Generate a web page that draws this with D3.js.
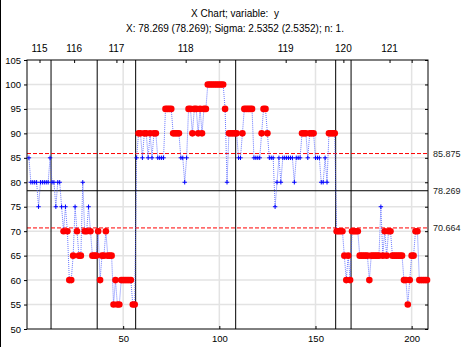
<!DOCTYPE html>
<html>
<head>
<meta charset="utf-8">
<script src="https://cdn.jsdelivr.net/npm/d3@7"></script>
<style>
  body { margin: 0; background: #fff; }
  svg text { font-family: "Liberation Sans", Arial, sans-serif; white-space: pre; }
</style>
</head>
<body>
<div id="viz"></div>
<script>
const width = 461;
const height = 347;
const plot = {left: 27, right: 428, top: 60, bottom: 329};

// sample values, one per observation (1..208)
const values = [
  85,80,80,80,80,75,80,80,80,80,80,85,
  80,80,75,80,80,75,70,75,70,60,60,65,
  75,70,65,65,80,70,70,75,70,65,65,65,
  70,60,65,65,70,65,65,65,55,60,55,55,
  60,60,60,60,60,60,55,55,
  85,90,90,85,90,90,85,90,85,90,90,85,
  85,85,85,95,95,95,95,90,90,90,90,85,
  85,80,85,95,95,90,95,95,90,95,90,95,
  95,100,100,100,100,100,100,100,100,100,95,80,
  90,90,90,90,90,85,85,90,95,95,95,95,
  95,85,85,85,85,90,95,95,90,85,85,85,
  75,80,85,80,85,85,85,85,85,85,80,85,
  85,85,90,90,90,85,90,90,90,85,85,85,
  80,80,85,80,90,90,90,90,70,70,70,70,
  65,60,65,60,70,70,70,70,65,65,65,65,
  65,60,65,65,65,65,65,75,65,70,65,70,
  70,65,65,65,65,65,65,60,60,55,60,65,
  65,70,70,60,60,60,60,60
];

// groups (top labels) and where each group ends
const groupLabels = ['115', '116', '117', '118', '119', '120', '121'];
const groupBreaks = [12.5, 36.5, 56.5, 108.5, 160.5, 168.5];

// control limits
const centerLine = 78.269;
const ucl = 85.875;
const lcl = 70.664;
const limitLabels = ['85.875', '78.269', '70.664'];

const xTicks = [50, 100, 150, 200];
const yTicks = [50, 55, 60, 65, 70, 75, 80, 85, 90, 95, 100, 105];

const titleLines = ['X Chart; variable:  y', 'X: 78.269 (78.269); Sigma: 2.5352 (2.5352); n: 1.'];

const x = d3.scaleLinear().domain([0, values.length + 0.5]).range([plot.left, plot.right]);
const y = d3.scaleLinear().domain([50, 105]).range([plot.bottom, plot.top]);

const svg = d3.select('#viz')
  .append('svg')
  .attr('width', width)
  .attr('height', height);

// left page edge
svg.append('line')
  .attr('x1', 0.5).attr('x2', 0.5).attr('y1', 0).attr('y2', height)
  .attr('stroke', '#000');

// title
svg.append('g')
  .selectAll('text')
  .data(titleLines)
  .join('text')
    .attr('x', 235)
    .attr('y', (d, i) => 17 + i * 15)
    .attr('text-anchor', 'middle')
    .attr('font-size', 10)
    .text(d => d);

// grid
const grid = svg.append('g').attr('stroke', '#e3e3e3').attr('stroke-width', 1.5);
grid.selectAll('.hg')
  .data(yTicks.slice(1, -1))
  .join('line')
    .attr('x1', plot.left).attr('x2', plot.right)
    .attr('y1', d => y(d)).attr('y2', d => y(d));
grid.selectAll('.vg')
  .data(xTicks)
  .join('line')
    .attr('x1', d => x(d)).attr('x2', d => x(d))
    .attr('y1', plot.top).attr('y2', plot.bottom);

// axes
const tickFont = g => g.selectAll('text').attr('font-size', 9.5).attr('fill', '#000');
svg.append('g')
  .attr('transform', `translate(${plot.left},0)`)
  .call(d3.axisLeft(y).tickValues(yTicks).tickSize(3).tickPadding(3))
  .call(g => g.select('.domain').remove())
  .call(tickFont);
svg.append('g')
  .attr('transform', `translate(${plot.right},0)`)
  .call(d3.axisLeft(y).tickValues(yTicks).tickSize(3).tickFormat(''))
  .call(g => g.select('.domain').remove());
svg.append('g')
  .attr('transform', `translate(0,${plot.bottom})`)
  .call(d3.axisTop(x).tickValues(xTicks).tickSize(3).tickFormat(''))
  .call(g => g.select('.domain').remove());
svg.append('g')
  .attr('transform', `translate(0,${plot.bottom})`)
  .call(d3.axisBottom(x).tickValues(xTicks).tickSize(0).tickPadding(6))
  .call(g => g.select('.domain').remove())
  .call(tickFont);
svg.append('g')
  .attr('transform', `translate(0,${plot.top})`)
  .call(d3.axisBottom(x).tickValues(xTicks).tickSize(3).tickFormat(''))
  .call(g => g.select('.domain').remove());

// group labels on top, centred on each group
const edges = [0.5, ...groupBreaks, values.length + 0.5];
const centers = groupLabels.map((d, i) => (edges[i] + edges[i + 1]) / 2);
svg.append('g')
  .attr('transform', `translate(0,${plot.top})`)
  .call(d3.axisBottom(x).tickValues(centers).tickSize(3).tickFormat(''))
  .call(g => g.select('.domain').remove());
svg.append('g')
  .selectAll('text')
  .data(groupLabels)
  .join('text')
    .attr('x', (d, i) => x(centers[i]))
    .attr('y', 52)
    .attr('text-anchor', 'middle')
    .attr('font-size', 10)
    .text(d => d);

// group separators
svg.append('g')
  .selectAll('line')
  .data(groupBreaks)
  .join('line')
    .attr('x1', d => x(d)).attr('x2', d => x(d))
    .attr('y1', plot.top).attr('y2', plot.bottom)
    .attr('stroke', '#000');

// control lines
svg.append('line')
  .attr('x1', plot.left).attr('x2', plot.right)
  .attr('y1', y(centerLine)).attr('y2', y(centerLine))
  .attr('stroke', '#000');
svg.append('g')
  .selectAll('line')
  .data([ucl, lcl])
  .join('line')
    .attr('x1', plot.left).attr('x2', plot.right)
    .attr('y1', d => y(d)).attr('y2', d => y(d))
    .attr('stroke', '#ff0000')
    .attr('stroke-dasharray', '4,2');

svg.append('g')
  .selectAll('text')
  .data([ucl, centerLine, lcl])
  .join('text')
    .attr('x', 433)
    .attr('y', d => y(d) + 3)
    .attr('font-size', 9)
    .attr('fill', '#222')
    .text((d, i) => limitLabels[i]);

// frame
svg.append('rect')
  .attr('x', plot.left).attr('y', plot.top)
  .attr('width', plot.right - plot.left).attr('height', plot.bottom - plot.top)
  .attr('fill', 'none').attr('stroke', '#000');

// dotted line through the samples
const line = d3.line()
  .x((d, i) => x(i + 1))
  .y(d => y(d));
svg.append('path')
  .attr('d', line(values))
  .attr('fill', 'none')
  .attr('stroke', '#4455ff')
  .attr('stroke-width', 0.8)
  .attr('stroke-dasharray', '1,1');

const pts = values.map((v, i) => ({i: i + 1, v: v, out: v > ucl || v < lcl}));

// in-control points: blue plus
svg.append('g')
  .selectAll('path')
  .data(pts.filter(d => !d.out))
  .join('path')
    .attr('d', d => `M${x(d.i) - 2.2},${y(d.v)}h4.4M${x(d.i)},${y(d.v) - 2.2}v4.4`)
    .attr('stroke', '#0000ff')
    .attr('stroke-width', 1);

// out-of-control points: red dots
svg.append('g')
  .selectAll('circle')
  .data(pts.filter(d => d.out))
  .join('circle')
    .attr('cx', d => x(d.i))
    .attr('cy', d => y(d.v))
    .attr('r', 3.3)
    .attr('fill', '#ff0000');
</script>
</body>
</html>
